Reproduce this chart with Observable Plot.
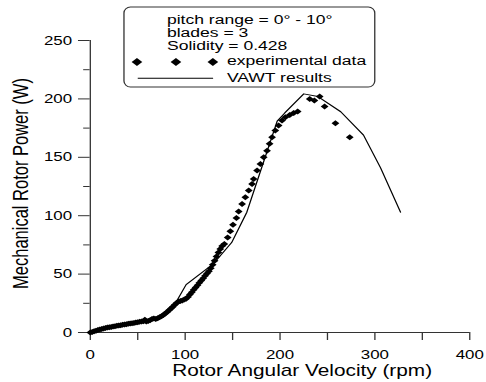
<!DOCTYPE html>
<html>
<head>
<meta charset="utf-8">
<script src="https://cdn.jsdelivr.net/npm/d3@7"></script>
<script src="https://cdn.jsdelivr.net/npm/@observablehq/plot@0.6"></script>
<style>
  html, body { margin: 0; padding: 0; background: #fff; }
  #chart svg { display: block; }
</style>
</head>
<body>
<div id="chart"></div>
<script>
// ---- data ----
const expRpm = [0, 2, 4, 6, 8, 10, 12, 14, 16, 18, 20, 22, 24, 26, 28, 30, 32, 34, 36, 38, 40, 42, 44, 46, 48, 50, 52, 54, 56, 57.5, 59, 61, 63, 65, 67, 69, 71, 73, 75, 77, 79, 81, 83, 85, 87, 89, 91, 93, 95, 97, 99, 101, 103, 105, 107, 109, 111, 113, 115, 117, 119, 121, 123, 125, 127, 129, 131, 133, 135, 137, 139, 141.3, 144.8, 147.6, 150.4, 154, 156.4, 160, 163.4, 167, 170.5, 172.2, 175.8, 179.3, 182.8, 186.3, 189, 191.6, 195, 198.5, 202.1, 205.6, 210.2, 214.4, 218.6, 231.3, 236.2, 241.8, 247, 258.4, 273.5];
const expPower = [0, 0.5, 1, 1.6, 2.1, 2.6, 3, 3.4, 3.8, 4.2, 4.5, 4.8, 5.1, 5.4, 5.7, 6, 6.3, 6.6, 6.9, 7.1, 7.4, 7.7, 7.9, 8.2, 8.5, 8.8, 9.1, 9.4, 9.7, 11, 9.5, 9.8, 10.5, 11.5, 12, 11.5, 12.3, 13, 14, 15, 16.3, 17.6, 19, 20.5, 22, 23.8, 25.3, 26.5, 27, 27.5, 28.2, 29, 30.5, 32.5, 34.5, 36.5, 38.5, 40.5, 42.5, 44.5, 46.5, 48.5, 50.5, 52.5, 55, 58, 61.5, 65, 68.5, 71.5, 74, 75.8, 81.4, 86.6, 92.3, 98, 103.5, 110, 115.7, 121.5, 127.2, 131.5, 138.6, 144.3, 150, 155.7, 161.5, 167.1, 172.9, 177.2, 181.5, 184.3, 186.3, 188, 189.2, 200, 198.6, 202, 193.4, 179.1, 167.1];

const vawtRpm = [0, 20, 40, 60, 75, 89, 101, 130, 149, 165, 197, 205, 225, 240, 264, 288, 306, 327];
const vawtPower = [0, 4, 7, 10, 14, 24, 41, 59, 77, 103, 181, 188, 204.3, 202, 189, 169, 141, 103];

const xTicks = [0, 100, 200, 300, 400];
const xMinorTicks = [50, 150, 250, 350];
const yTicks = [0, 50, 100, 150, 200, 250];
const yMinorTicks = [25, 75, 125, 175, 225];

const xTitle = "Rotor Angular Velocity (rpm)";
const yTitle = "Mechanical Rotor Power (W)";
const legendInfo = ["pitch range = 0° - 10°", "blades = 3", "Solidity = 0.428"];
const legendSeries = ["experimental data", "VAWT results"];

// ---- build tables ----
const expData = expRpm.map((x, i) => ({x, y: expPower[i]}));
const vawtData = vawtRpm.map((x, i) => ({x, y: vawtPower[i]}));

// the reference is horizontally stretched; draw narrow then stretch
const STRETCH = 1.3;
const W0 = Math.round(486 / STRETCH);
const font = "'Liberation Sans', Arial, Helvetica, sans-serif";

const chart = Plot.plot({
  width: W0,
  height: 382,
  marginLeft: 69,
  marginRight: W0 - 361,
  marginTop: 40,
  marginBottom: 50,
  style: {fontFamily: font, fontSize: "13px", color: "#000", background: "#fff", overflow: "visible"},
  x: {domain: [0, 400]},
  y: {domain: [0, 250]},
  marks: [
    Plot.axisX({ticks: xTicks, tickSize: 8, tickPadding: 9, label: null, stroke: "#333", fontSize: 13}),
    Plot.axisX({ticks: xMinorTicks, tickSize: 8, tickFormat: () => "", label: null, stroke: "#333"}),
    Plot.axisY({ticks: yTicks, tickSize: 9, tickPadding: 5, label: null, stroke: "#333", fontSize: 13}),
    Plot.axisY({ticks: yMinorTicks, tickSize: 5, tickFormat: () => "", label: null, stroke: "#333"}),
    Plot.ruleX([0], {y1: 0, y2: 250, stroke: "#333"}),
    Plot.ruleY([0], {x1: 0, x2: 400, stroke: "#333"}),
    Plot.line(vawtData, {x: "x", y: "y", stroke: "#000", strokeWidth: 1}),
    Plot.dot(expData, {x: "x", y: "y", symbol: "diamond2", r: 2.7, fill: "#000", stroke: null}),
    Plot.text([xTitle], {frameAnchor: "bottom", dx: 17, dy: 38, fontSize: 16, textAnchor: "middle", lineAnchor: "middle", fill: "#000"}),
    Plot.text([yTitle], {frameAnchor: "left", rotate: -90, dx: -53, dy: -3, fontSize: 16.5, textAnchor: "middle", lineAnchor: "middle", fill: "#000"})
  ]
});

// ---- legend box (drawn inside the same svg) ----
const svg = d3.select(chart);
const lg = svg.append("g")
  .attr("font-family", font).attr("font-size", 13.5)
  .attr("fill", "#000").attr("text-anchor", "start");
lg.append("rect")
  .attr("x", 95.4).attr("y", 7).attr("width", 193).attr("height", 80)
  .attr("rx", 5).attr("ry", 6)
  .attr("fill", "#fff").attr("stroke", "#333").attr("stroke-width", 1);
legendInfo.forEach((t, i) => {
  lg.append("text").attr("x", 128.5).attr("y", 24 + i * 13.2).attr("text-anchor", "start").text(t);
});
const diamond = d3.symbol(d3.symbolDiamond2, Math.pow(8.2 / 1.2525, 2))();
[105.4, 135.4, 163.8].forEach(cx => {
  lg.append("path").attr("d", diamond).attr("transform", `translate(${cx},62)`).attr("fill", "#000");
});
lg.append("text").attr("x", 174.6).attr("y", 65.5).attr("text-anchor", "start").text(legendSeries[0]);
lg.append("line").attr("x1", 106).attr("x2", 164).attr("y1", 78.3).attr("y2", 78.3).attr("stroke", "#000").attr("stroke-width", 1);
lg.append("text").attr("x", 174.6).attr("y", 81.7).attr("text-anchor", "start").text(legendSeries[1]);

// stretch horizontally to 486 px
chart.setAttribute("width", 486);
chart.setAttribute("height", 382);
chart.setAttribute("viewBox", `0 0 ${W0} 382`);
chart.setAttribute("preserveAspectRatio", "none");
chart.style.maxWidth = "none";
document.getElementById("chart").appendChild(chart);
</script>
</body>
</html>
